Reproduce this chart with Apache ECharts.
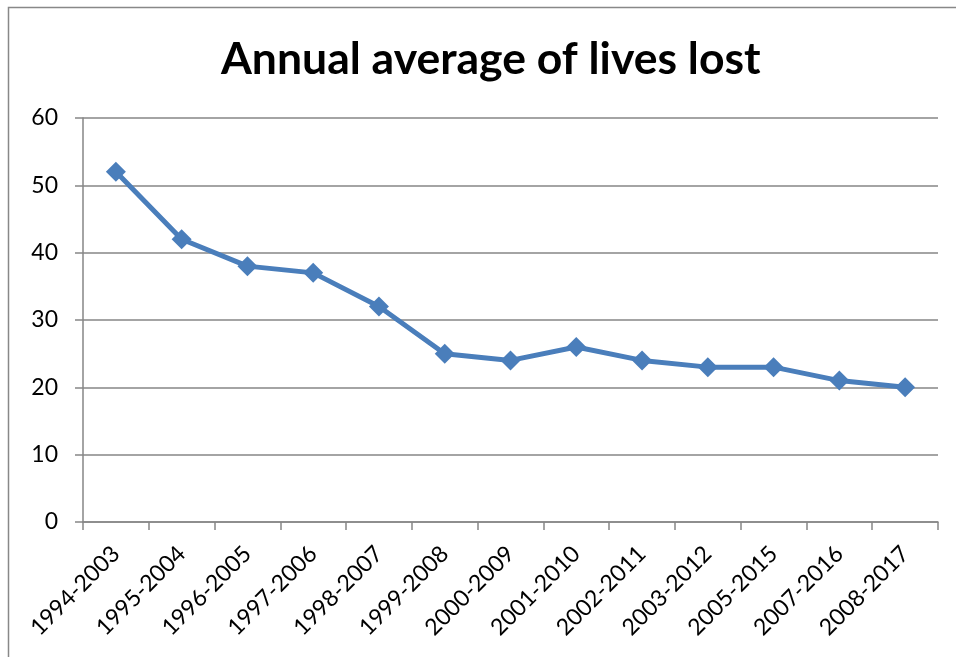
<!DOCTYPE html>
<html><head><meta charset="utf-8">
<script src="https://cdn.jsdelivr.net/npm/echarts@6/dist/echarts.min.js"></script>
<style>html,body{margin:0;padding:0;background:#fff}#c{width:956px;height:657px}</style>
</head><body><div id="c"></div>
<script>
const categories = ['1994-2003','1995-2004','1996-2005','1997-2006','1998-2007','1999-2008','2000-2009','2001-2010','2002-2011','2003-2012','2005-2015','2007-2016','2008-2017'];
const values = [52, 42, 38, 37, 32, 25, 24, 26, 24, 23, 23, 21, 20];
const titleText = 'Annual average of lives lost';
const chart = echarts.init(document.getElementById('c'));
const font = 'Lato, "Open Sans", sans-serif';
chart.setOption({
  animation: false,
  backgroundColor: '#fff',
  graphic: [{type:'polyline', shape:{points:[[8.5,657],[8.5,7.5],[956,7.5]]}, style:{stroke:'#888', lineWidth:1.5, fill:null}}],
  title: {text: titleText, left: 216, top: 32, textStyle:{fontFamily:font, fontWeight:'bold', fontSize:44.5, color:'#000'}},
  grid: {left: 83, right: 18, top: 118, bottom: 135},
  xAxis: {type:'category', data: categories, boundaryGap: true,
    axisLine:{lineStyle:{color:'#868686', width:1.5}},
    axisTick:{show:true, length:8, alignWithLabel:false, lineStyle:{color:'#868686', width:1.5}},
    axisLabel:{rotate:45, interval:0, fontFamily:font, fontSize:23, color:'#000', margin:28}},
  yAxis: {type:'value', min:0, max:60, interval:10,
    axisLine:{show:true, lineStyle:{color:'#868686', width:1.5}},
    axisTick:{show:true, length:8, lineStyle:{color:'#868686', width:1.5}},
    splitLine:{lineStyle:{color:'#868686', width:1.5}},
    axisLabel:{fontFamily:font, fontSize:23, color:'#000', margin:25}},
  series: [{type:'line', data: values, symbol:'diamond', symbolSize:20,
    lineStyle:{color:'#4A7EBB', width:5}, itemStyle:{color:'#4A7EBB'}}]
});
</script></body></html>
